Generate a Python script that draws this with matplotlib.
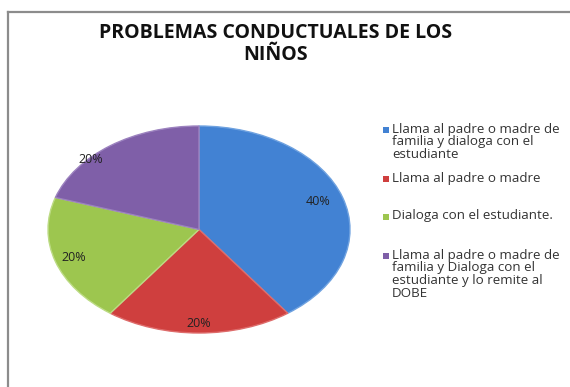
import matplotlib
matplotlib.use("Agg")
import matplotlib.pyplot as plt
from matplotlib.patches import Rectangle

title = "PROBLEMAS CONDUCTUALES DE LOS\nNIÑOS"
categories = [
    "Llama al padre o madre de\nfamilia y dialoga con el\nestudiante",
    "Llama al padre o madre",
    "Dialoga con el estudiante.",
    "Llama al padre o madre de\nfamilia y Dialoga con el\nestudiante y lo remite al\nDOBE",
]
values = [40, 20, 20, 20]
colors = ["#4282D3", "#CF3F3E", "#9DC64F", "#7F5FA8"]
edge_colors = ["#6FA2E0", "#DE6C6B", "#BCDB84", "#9C82BF"]

W, H = 570, 387
fig = plt.figure(figsize=(W / 100, H / 100), dpi=100)
fig.patch.set_facecolor("white")

def fx(px):
    return px / W

def fy(py):
    return 1 - py / H

# chart-area border (left and top edges visible)
fig.add_artist(plt.Line2D([fx(8), fx(8)], [fy(12), fy(390)], color="#8c8c8c", lw=1.6,
                          transform=fig.transFigure))
fig.add_artist(plt.Line2D([fx(8), fx(569)], [fy(12), fy(12)], color="#8c8c8c", lw=1.6,
                          transform=fig.transFigure))

fig.text(fx(276), fy(44), title, ha="center", va="center", fontsize=14,
         fontweight="bold", family="Open Sans", linespacing=1.1, color="#111111")

# pie axes spanning the ellipse bounds
ax = fig.add_axes([fx(48), fy(333), fx(350) - fx(48), (333 - 126) / H])
wedges, texts, autotexts = ax.pie(
    values, colors=colors, startangle=90, counterclock=False,
    autopct="%1.0f%%", pctdistance=0.85, radius=1,
    wedgeprops=dict(linewidth=1.0),
    textprops=dict(fontsize=9, family="Open Sans", color="#222222"),
)
for w, ec in zip(wedges, edge_colors):
    w.set_edgecolor(ec)
ax.set_aspect("auto")
ax.set_xlim(-1, 1)
ax.set_ylim(-1, 1)
ax.axis("off")

# label placement inside each slice
label_pos = [(0.79, 0.27), (0.0, -0.91), (-0.83, -0.27), (-0.715, 0.68)]
for t, (x, y) in zip(autotexts, label_pos):
    t.set_position((x, y))
    t.set_ha("center")
    t.set_va("center")

# legend entries
leg_tops = [130, 179, 217, 256]
for lab, col, top in zip(categories, colors, leg_tops):
    fig.add_artist(Rectangle((fx(383), fy(top) - 3 / H), 6 / W, 6 / H,
                             transform=fig.transFigure, facecolor=col,
                             edgecolor="none"))
    t = fig.text(fx(392), fy(top) + 7.5 / H, lab, ha="left", va="top", fontsize=9.6,
                 family="Open Sans", color="#333333", linespacing=0.97)

fig.savefig("out.png", dpi=100)
